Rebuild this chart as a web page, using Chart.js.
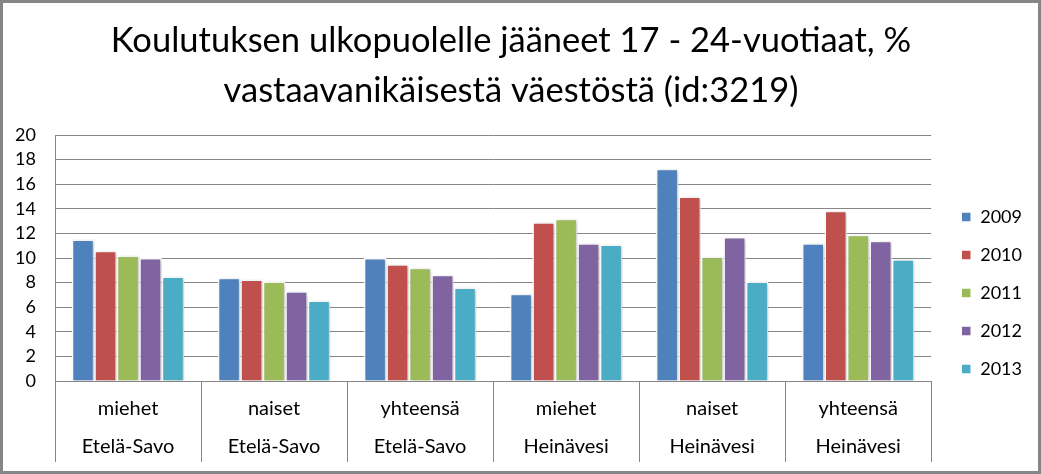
<html lang="fi">
  <head>
    <meta charset="UTF-8" />
    <script src="https://cdn.jsdelivr.net/npm/chart.js@4.4.1/dist/chart.umd.min.js"></script>
    <style>
      body { margin: 0; background: #fff; }
      #wrap { position: relative; width: 1041px; height: 474px; }
    </style>
  </head>
  <body>
    <div id="wrap"><canvas id="chart"></canvas></div>
    <script>
      // categories (two-row labels)
      const groups = ["miehet", "naiset", "yhteensä", "miehet", "naiset", "yhteensä"];
      const areas = ["Etelä-Savo", "Etelä-Savo", "Etelä-Savo", "Heinävesi", "Heinävesi", "Heinävesi"];
      const years = ["2009", "2010", "2011", "2012", "2013"];

      // values per year
      const v2009 = [11.5, 8.4, 10.0, 7.1, 17.25, 11.2];
      const v2010 = [10.6, 8.25, 9.5, 12.9, 15.0, 13.85];
      const v2011 = [10.2, 8.1, 9.2, 13.2, 10.1, 11.9];
      const v2012 = [10.0, 7.3, 8.65, 11.2, 11.7, 11.4];
      const v2013 = [8.5, 6.55, 7.6, 11.1, 8.1, 9.9];

      const colors = ["#4F81BD", "#C0504D", "#9BBB59", "#8064A2", "#4BACC6"];
      const series = [v2009, v2010, v2011, v2012, v2013];

      const labels = groups.map((g, i) => [g, areas[i]]);

      // white background + grey frame round the picture
      const framePlugin = {
        id: "frame",
        beforeDraw(chart) {
          const ctx = chart.ctx;
          ctx.save();
          ctx.fillStyle = "#fff";
          ctx.fillRect(0, 0, chart.width, chart.height);
          ctx.strokeStyle = "#868686";
          ctx.lineWidth = 3;
          ctx.strokeRect(1.5, 1.5, chart.width - 3, chart.height - 3);
          ctx.restore();
        },
        // nudge the legend to where it sits in the original
        afterLayout(chart) {
          const leg = chart.legend;
          leg.left += 10;
          leg.right += 10;
          leg.top += 55;
          leg.bottom += 55;
        },
      };

      // soft shadow behind the bars
      const shadowPlugin = {
        id: "barShadow",
        beforeDatasetsDraw(chart) {
          const ctx = chart.ctx;
          ctx.save();
          ctx.shadowColor = "rgba(0,0,0,0.22)";
          ctx.shadowBlur = 4;
          ctx.shadowOffsetX = 2;
          ctx.shadowOffsetY = 1;
        },
        afterDatasetsDraw(chart) {
          chart.ctx.restore();
        },
      };

      // vertical separators between the categories, below the axis
      const separatorPlugin = {
        id: "separators",
        afterDraw(chart) {
          const xs = chart.scales.x;
          const ctx = chart.ctx;
          const step = xs.width / labels.length;
          ctx.save();
          ctx.strokeStyle = "#868686";
          ctx.lineWidth = 1;
          for (let i = 0; i <= labels.length; i++) {
            const x = Math.round(xs.left + i * step) + 0.5;
            ctx.beginPath();
            ctx.moveTo(x, xs.top);
            ctx.lineTo(x, xs.top + 81);
            ctx.stroke();
          }
          ctx.restore();
        },
      };

      const font = "Lato, 'Open Sans', sans-serif";

      new Chart(document.getElementById("chart"), {
        type: "bar",
        data: {
          labels: labels,
          datasets: years.map((y, i) => ({
            label: y,
            data: series[i],
            backgroundColor: colors[i],
            borderColor: "#fff",
            borderWidth: 1.5,
            categoryPercentage: 0.77,
            barPercentage: 1.0,
          })),
        },
        options: {
          responsive: true,
          maintainAspectRatio: false,
          animation: false,
          layout: { padding: { left: 0, right: 19, top: 8, bottom: 6 } },
          plugins: {
            title: {
              display: true,
              text: ["Koulutuksen ulkopuolelle jääneet 17 - 24-vuotiaat, %", "vastaavanikäisestä väestöstä (id:3219)"],
              color: "#000",
              font: { family: font, size: 34.5, weight: "normal", lineHeight: 1.45 },
              padding: { top: 8, bottom: 19 },
            },
            legend: {
              position: "right",
              labels: {
                color: "#000",
                font: { family: font, size: 18 },
                boxWidth: 10,
                boxHeight: 10,
                padding: 20,
              },
            },
            tooltip: { enabled: false },
          },
          scales: {
            x: {
              grid: { drawOnChartArea: false, drawTicks: false },
              border: { color: "#868686", width: 1 },
              ticks: {
                color: "#000",
                font: { family: font, size: 20, lineHeight: 1.9 },
                padding: 9,
                maxRotation: 0,
              },
              afterFit(s) {
                s.height = 87;
              },
            },
            y: {
              min: 0,
              max: 20,
              ticks: {
                stepSize: 2,
                autoSkip: false,
                color: "#000",
                font: { family: font, size: 18 },
                padding: 19,
              },
              grid: { color: "#868686", drawTicks: false },
              border: { color: "#868686", width: 1 },
              afterFit(s) {
                s.width = 55;
              },
            },
          },
        },
        plugins: [framePlugin, shadowPlugin, separatorPlugin],
      });
    </script>
  </body>
</html>
